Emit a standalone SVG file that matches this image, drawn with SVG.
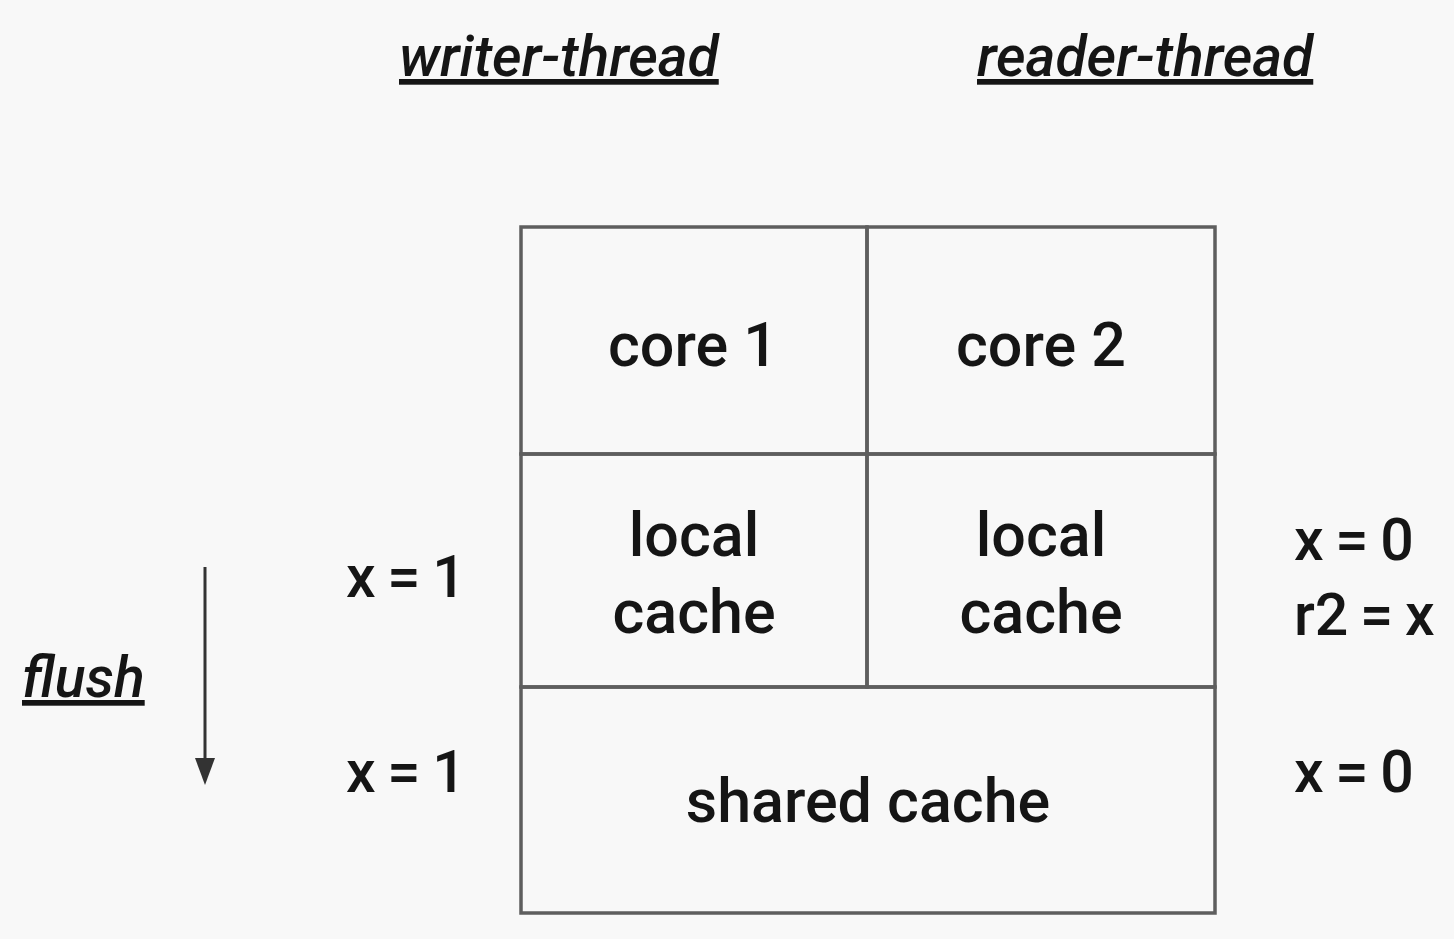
<svg xmlns="http://www.w3.org/2000/svg" width="1454" height="939" viewBox="0 0 1454 939">
<style>
.t{font-family:Roboto,"Liberation Sans",sans-serif;font-size:61px;font-weight:500;fill:#151515;}
.v{font-size:59px;word-spacing:-3px;}
.h{font-family:Roboto,"Liberation Sans",sans-serif;font-size:57px;font-weight:500;font-style:italic;fill:#151515;text-decoration:underline;}
.c{text-anchor:middle;}
.b{fill:none;stroke:#5e5e5e;stroke-width:3.5;}
</style>
<rect width="1454" height="939" fill="#f8f8f8"/>
<g id="labels">
<text class="h" x="399" y="76">writer-thread</text>
<text class="h" x="977" y="76">reader-thread</text>
<text class="h" x="22" y="697">flush</text>
</g>
<g id="core1"><rect class="b" x="521" y="227" width="346" height="227"/><text class="t c" x="693" y="366">core 1</text></g>
<g id="core2"><rect class="b" x="867" y="227" width="348" height="227"/><text class="t c" x="1041" y="366">core 2</text></g>
<g id="local1"><rect class="b" x="521" y="454" width="346" height="233"/><text class="t c" x="694" y="556">local</text><text class="t c" x="694" y="633">cache</text></g>
<g id="local2"><rect class="b" x="867" y="454" width="348" height="233"/><text class="t c" x="1041" y="556">local</text><text class="t c" x="1041" y="633">cache</text></g>
<g id="shared"><rect class="b" x="521" y="687" width="694" height="226"/><text class="t c" x="868" y="822">shared cache</text></g>
<g id="values">
<text class="t v" x="346" y="597">x = 1</text>
<text class="t v" x="346" y="792">x = 1</text>
<text class="t v" x="1294" y="560">x = 0</text>
<text class="t v" x="1294" y="635">r2 = x</text>
<text class="t v" x="1294" y="792">x = 0</text>
</g>
<g id="connectors">
<path d="M205,567 V762" stroke="#333" stroke-width="3" fill="none"/>
<path d="M195,758 L215,758 L205,785 z" fill="#333"/>
</g>
</svg>
